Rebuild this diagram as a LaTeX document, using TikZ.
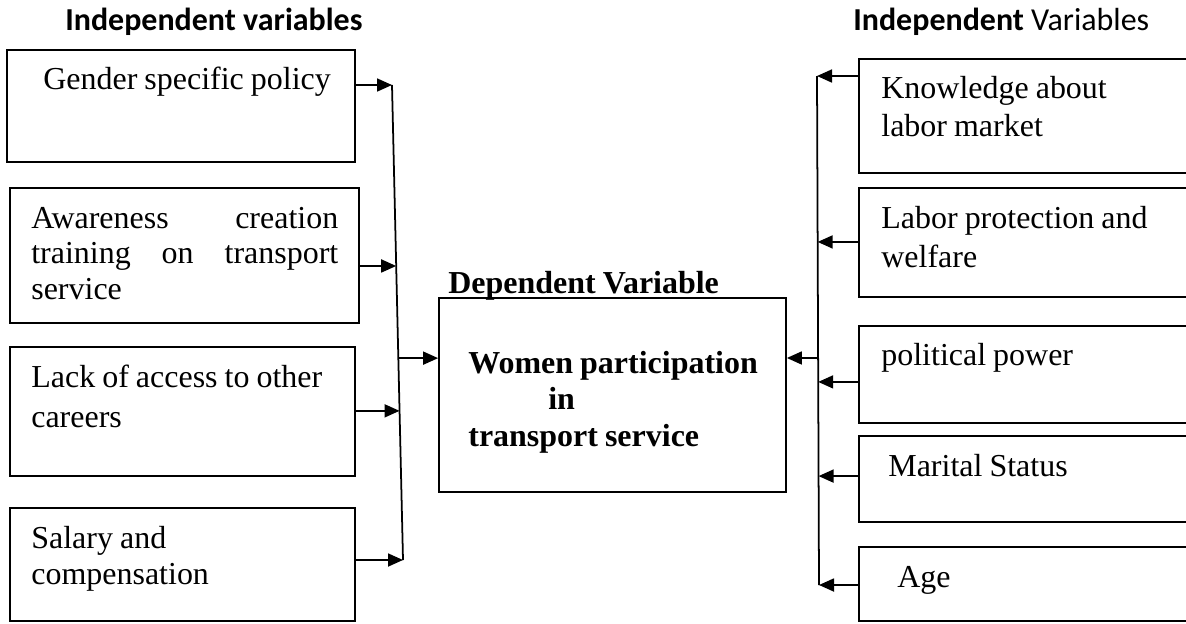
\documentclass[tikz,border=0pt]{standalone}
\usepackage{fontspec}
\setmainfont{Liberation Serif}
\newfontfamily\hdfont{Carlito}
\usetikzlibrary{calc,arrows.meta,fit}
\tikzset{
  ar/.style={-{Triangle[length=3mm,width=2.6mm]},line width=1pt},
  ln/.style={line width=1pt},
  box/.style={draw,line width=1pt,inner sep=0pt},
  txt/.style={anchor=base west,inner sep=0pt,font=\fontsize{18.2}{21}\selectfont,text width=8cm,
    execute at begin node={\spaceskip=0.22em plus 0.1em\relax}},
  hd/.style={anchor=base west,inner sep=0pt,font=\hdfont\fontsize{18.2}{21}\selectfont}
}
\begin{document}
\begin{tikzpicture}[x=0.02cm,y=-0.02cm]
\useasboundingbox (0,0) rectangle (1186,623);
\node[hd] (hl) at (65,30) {\bfseries Independent variables};
\node[hd] (hr) at (853,30) {\textbf{Independent} Variables};
\node[box,fit={(7,50)(355,162)}] (l1) {};
\node[box,fit={(10,188)(359,323)}] (l2) {};
\node[box,fit={(10,347)(355,476)}] (l3) {};
\node[box,fit={(10,508)(355,621)}] (l4) {};
\node[box,fit={(439,298)(786,492)}] (dv) {};
\node[box,fit={(859,59)(1195,173)}] (r1) {};
\node[box,fit={(859,188)(1195,297)}] (r2) {};
\node[box,fit={(859,326)(1195,423)}] (r3) {};
\node[box,fit={(859,436)(1195,522)}] (r4) {};
\node[box,fit={(859,547)(1195,621)}] (r5) {};
\node[txt] (t1) at (43,89) {Gender specific policy};
\node[txt] (t2) at (31,228) {\makebox[6.14cm][l]{Awareness\hfill creation}\\[-0.02cm]
  \makebox[6.14cm][l]{training\hfill on\hfill transport}\\[-0.02cm] service};
\node[txt] (t3) at (31,387) {Lack of access to other\\[0.08cm] careers};
\node[txt] (t4) at (31,548) {Salary and\\ compensation};
\node[txt,font=\bfseries\fontsize{18.2}{21}\selectfont] (dvh) at (448,293) {Dependent Variable};
\node[txt,font=\bfseries\fontsize{18.2}{21}\selectfont] (t5) at (468,373)
  {Women participation\\ \hspace*{1.6cm}in\\ transport service};
\node[txt] (t6) at (881,98) {Knowledge about\\[0.04cm] labor market};
\node[txt] (t7) at (881,228) {Labor protection and\\[0.06cm] welfare};
\node[txt] (t8) at (881,365) {political power};
\node[txt] (t9) at (888,476) {Marital Status};
\node[txt] (t10) at (897,587) {Age};
\coordinate (lt) at (392,85);
\coordinate (lb) at (403,560);
\coordinate (rt) at (817,76);
\coordinate (rb) at (819,585);
\draw[ln] (lt) -- (lb);
\draw[ln] (rt) -- (rb);
\foreach \b/\t in {l1/0,l2/0.381,l3/0.686,l4/1}{
  \coordinate (p) at ($(lt)!\t!(lb)$);
  \draw[ar] (\b.east |- p) -- (p);
}
\foreach \b/\t in {r1/0,r2/0.326,r3/0.601,r4/0.786,r5/1}{
  \coordinate (p) at ($(rt)!\t!(rb)$);
  \draw[ar] (\b.west |- p) -- (p);
}
\coordinate (lq) at ($(lt)!0.575!(lb)$);
\coordinate (rq) at ($(rt)!0.554!(rb)$);
\draw[ar] (lq) -- (dv.west |- lq);
\draw[ar] (rq) -- (dv.east |- rq);
\end{tikzpicture}
\end{document}
